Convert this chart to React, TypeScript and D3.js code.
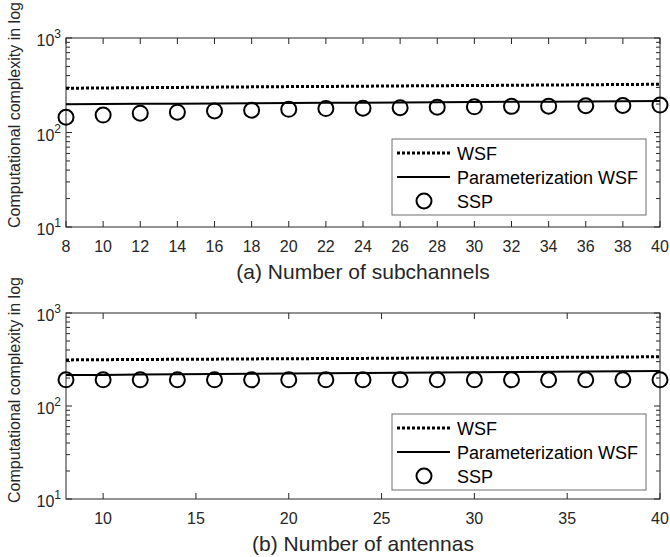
import React from 'react';
import * as d3 from 'd3';

// x values (both panels use 8..40 step 2 for the markers)
const subchannels = [8, 10, 12, 14, 16, 18, 20, 22, 24, 26, 28, 30, 32, 34, 36, 38, 40];
const antennas = [8, 10, 12, 14, 16, 18, 20, 22, 24, 26, 28, 30, 32, 34, 36, 38, 40];

// panel (a)
const wsfA = [294, 296, 298, 300, 302, 304, 306, 307, 309, 311, 313, 314, 316, 318, 320, 322, 324];
const paramA = [199, 200, 201, 202, 203, 204, 205, 206, 207, 208, 209, 210, 211, 212, 213, 214, 215];
const sspA = [145, 153, 160, 164, 169, 172, 176, 179, 181, 183, 185, 187, 189, 190, 192, 193, 195];

// panel (b)
const wsfB = [313, 315, 316, 318, 319, 321, 322, 324, 325, 327, 328, 330, 331, 333, 334, 336, 339];
const paramB = [215, 216, 218, 219, 221, 222, 224, 225, 226, 228, 229, 231, 232, 234, 235, 237, 238];
const sspB = [191, 191, 191, 191, 191, 191, 191, 191, 191, 191, 191, 191, 191, 191, 191, 191, 191];

const ticksA = [8, 10, 12, 14, 16, 18, 20, 22, 24, 26, 28, 30, 32, 34, 36, 38, 40];
const ticksB = [10, 15, 20, 25, 30, 35, 40];
const yMajor = [10, 100, 1000];
const legendLabels = ['WSF', 'Parameterization WSF', 'SSP'];

const font = 'Liberation Sans, Arial, sans-serif';
const axisColor = '#262626';

const Panel = ({ top, bottom, xs, wsf, param, ssp, ticks, title, labelY }) => {
  const left = 66;
  const right = 660;
  const x = d3.scaleLinear().domain([8, 40]).range([left, right]);
  const y = d3.scaleLog().domain([10, 1000]).range([bottom, top]);
  const line = d3.line<number>().x((_, i) => x(xs[i])).y(d => y(d));

  const minor: number[] = [];
  [10, 100].forEach(base => {
    for (let k = 2; k <= 9; k++) minor.push(base * k);
  });

  const lgLeft = 392;
  const lgTop = top + 101;
  const rows = legendLabels.map((_, i) => lgTop + 14 + i * 24);

  return (
    <g>
      {/* ticks */}
      {ticks.map(t => (
        <g key={'xt' + t}>
          <line x1={x(t)} x2={x(t)} y1={bottom} y2={bottom - 6} stroke={axisColor} />
          <line x1={x(t)} x2={x(t)} y1={top} y2={top + 6} stroke={axisColor} />
          <text x={x(t)} y={bottom + 25} textAnchor="middle" fontSize={16} fontFamily={font} fill={axisColor}>{t}</text>
        </g>
      ))}
      {minor.map(v => (
        <g key={'mn' + v}>
          <line x1={left} x2={left + 4} y1={y(v)} y2={y(v)} stroke={axisColor} />
          <line x1={right} x2={right - 4} y1={y(v)} y2={y(v)} stroke={axisColor} />
        </g>
      ))}
      {yMajor.map(v => (
        <g key={'yt' + v}>
          <line x1={left} x2={left + 6} y1={y(v)} y2={y(v)} stroke={axisColor} />
          <line x1={right} x2={right - 6} y1={y(v)} y2={y(v)} stroke={axisColor} />
          <text x={left - 5} y={y(v) + 8} textAnchor="end" fontSize={16} fontFamily={font} fill={axisColor}>
            10<tspan dy={-8} fontSize={12}>{Math.round(Math.log10(v))}</tspan>
          </text>
        </g>
      ))}
      <rect x={left} y={top} width={right - left} height={bottom - top} fill="none" stroke={axisColor} strokeWidth={1} />

      {/* series */}
      <path d={line(wsf) || ''} fill="none" stroke="#000" strokeWidth={3} strokeDasharray="3 2" />
      <path d={line(param) || ''} fill="none" stroke="#000" strokeWidth={2} />
      {ssp.map((v, i) => (
        <circle key={'c' + i} cx={x(xs[i])} cy={y(v)} r={7.5} fill="none" stroke="#000" strokeWidth={2} />
      ))}

      {/* legend */}
      <rect x={lgLeft} y={lgTop} width={254} height={76} fill="#fff" stroke="#6e6e6e" strokeWidth={1} />
      <line x1={397} x2={450} y1={rows[0]} y2={rows[0]} stroke="#000" strokeWidth={3} strokeDasharray="3 2" />
      <line x1={397} x2={450} y1={rows[1]} y2={rows[1]} stroke="#000" strokeWidth={2} />
      <circle cx={424} cy={rows[2]} r={7.5} fill="none" stroke="#000" strokeWidth={2} />
      {legendLabels.map((l, i) => (
        <text key={l} x={457} y={rows[i] + 6.5} fontSize={18} fontFamily={font} fill="#000">{l}</text>
      ))}

      {/* labels */}
      <text x={(left + right) / 2} y={bottom + 52} textAnchor="middle" fontSize={21} fontFamily={font} fill={axisColor}>{title}</text>
      <text transform={`translate(20,${labelY}) rotate(-90)`} textAnchor="middle" fontSize={16} fontFamily={font} fill={axisColor}>
        Computational complexity in log
      </text>
    </g>
  );
};

const App = () => (
  <svg width={670} height={557} style={{ position: 'absolute', left: 0, top: 0, background: '#fff' }}>
    <rect width={670} height={557} fill="#fff" />
    <Panel top={38} bottom={227} xs={subchannels} wsf={wsfA} param={paramA} ssp={sspA} ticks={ticksA} title="(a) Number of subchannels" labelY={115} />
    <Panel top={313} bottom={499} xs={antennas} wsf={wsfB} param={paramB} ssp={sspB} ticks={ticksB} title="(b) Number of antennas" labelY={390} />
  </svg>
);

export default App;
